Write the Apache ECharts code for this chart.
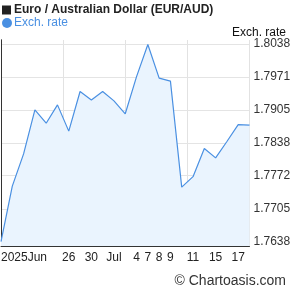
<!DOCTYPE html>
<html><head><meta charset="utf-8">
<script src="https://cdn.jsdelivr.net/npm/echarts@6/dist/echarts.min.js"></script>
<style>html,body{margin:0;padding:0;background:#fff}#c{width:295px;height:288px}</style>
</head><body><div id="c"></div>
<script>
var dates = ['2025-06-18','2025-06-19','2025-06-20','2025-06-23','2025-06-24','2025-06-25','2025-06-26','2025-06-27','2025-06-30','2025-07-01','2025-07-02','2025-07-03','2025-07-04','2025-07-07','2025-07-08','2025-07-09','2025-07-10','2025-07-11','2025-07-14','2025-07-15','2025-07-16','2025-07-17','2025-07-18'];
var tickLabels = ['2025Jun','','','','','','26','','30','','Jul','','4','7','8','9','','11','','15','','17',''];
var rates = [1.7639,1.7751,1.7816,1.7905,1.7878,1.7915,1.7862,1.7942,1.7925,1.7942,1.7923,1.7897,1.7972,1.8037,1.7969,1.7963,1.7749,1.7770,1.7827,1.7808,1.7841,1.7875,1.7874];
var yTicks = [1.7638,1.7705,1.7772,1.7838,1.7905,1.7971,1.8038];
var yMin = 1.7630, yMax = 1.8046;

var font = 'Liberation Sans, Arial, sans-serif';
var chart = echarts.init(document.getElementById('c'), null, {renderer:'canvas'});
chart.setOption({
  animation:false,
  textStyle:{fontFamily:font},
  title:[
    {text:'{s|}{t|Euro / Australian Dollar (EUR/AUD)}', left:2, top:3, padding:0,
     textStyle:{fontSize:12, fontWeight:'bold', color:'#222', fontFamily:font, lineHeight:14,
       rich:{s:{width:9, height:9, backgroundColor:'#222', verticalAlign:'middle', lineHeight:14},
             t:{fontSize:12, fontWeight:'bold', color:'#222', fontFamily:font, padding:[0,0,0,3], lineHeight:14, verticalAlign:'middle'}}}},
    {text:'Exch. rate', right:4, top:22, textStyle:{fontSize:12, fontWeight:'normal', color:'#111', fontFamily:font}},
    {text:'\u00A9 Chartoasis.com', right:4, top:269, textStyle:{fontSize:14, fontWeight:'normal', color:'#333', fontFamily:font}}
  ],
  legend:{left:0, top:17, itemWidth:10, itemHeight:10, itemGap:2, padding:[0,0,0,2],
    data:[{name:'Exch. rate', icon:'circle'}],
    textStyle:{color:'#4a90e2', fontSize:12, fontFamily:font, padding:[0,0,0,-3]}},
  grid:{left:1, right:45.5, top:40, bottom:42, containLabel:false, outerBoundsMode:'none'},
  xAxis:[
    {type:'category', data:dates, boundaryGap:false, z:1,
     axisLine:{show:true, lineStyle:{color:'#333'}}, axisTick:{show:false},
     splitLine:{show:false},
     axisLabel:{interval:0, color:'#222', fontSize:12, fontFamily:font, margin:6,
       alignMinLabel:'left', hideOverlap:false,
       formatter:function(v,i){return tickLabels[i];}}},
    {type:'value', min:0, max:4, interval:1, position:'top', show:true, z:0,
     axisLine:{show:false}, axisTick:{show:false}, axisLabel:{show:false},
     splitLine:{show:true, lineStyle:{color:'#e2e2e2', width:1}}}
  ],
  yAxis:[
    {type:'value', position:'right', min:yMin, max:yMax, z:1,
     axisLine:{show:true, lineStyle:{color:'#333'}}, axisTick:{show:false, customValues:yTicks},
     axisLabel:{customValues:yTicks, color:'#333', fontSize:12, fontFamily:font, margin:4,
       formatter:function(v){return v.toFixed(4);}},
     splitLine:{show:true, lineStyle:{color:'#e4e4e4'}}},
    {type:'value', position:'left', min:yMin, max:yMax, z:1,
     axisLine:{show:true, lineStyle:{color:'#333'}}, axisTick:{show:false},
     axisLabel:{show:false}, splitLine:{show:false}}
  ],
  series:[{
    name:'Exch. rate', type:'line', data:rates, xAxisIndex:0, yAxisIndex:0, z:3,
    symbol:'none', lineStyle:{color:'#4a90e2', width:1.2},
    itemStyle:{color:'#4a90e2'},
    areaStyle:{color:'#eaf4fe', opacity:1, origin:'start'}
  }]
});
</script></body></html>
